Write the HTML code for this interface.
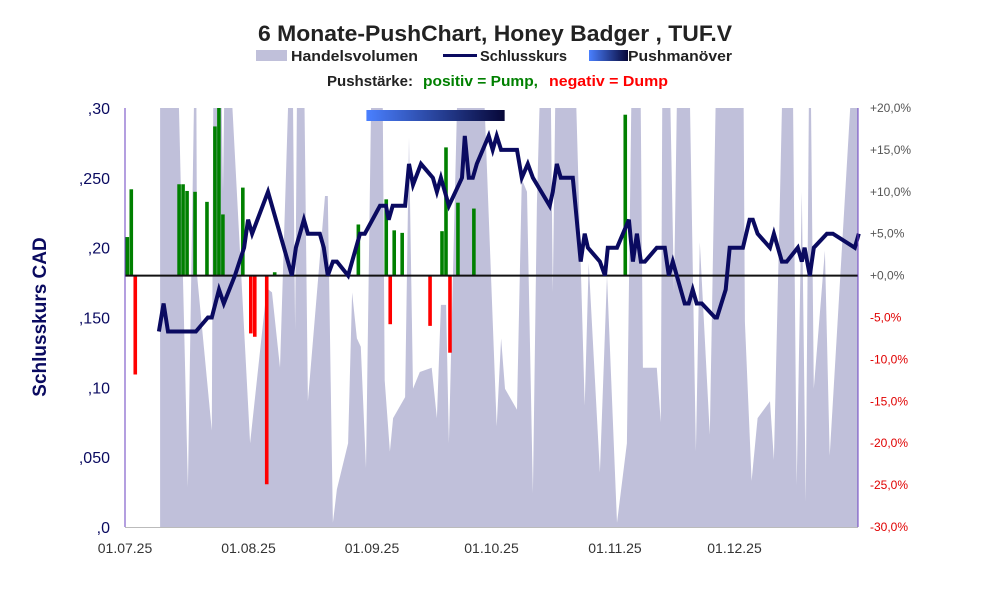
<!DOCTYPE html>
<html><head><meta charset="utf-8"><style>
body{margin:0;background:#fff;}
svg{display:block;font-family:"Liberation Sans",sans-serif;}
</style></head><body>
<svg id="chart" width="991" height="591" viewBox="0 0 991 591" xmlns="http://www.w3.org/2000/svg">
<defs>
<linearGradient id="pg" x1="0" x2="1" y1="0" y2="0"><stop offset="0" stop-color="#4a80ff"/><stop offset="1" stop-color="#070738"/></linearGradient>
<clipPath id="plotclip"><rect x="125" y="108" width="733" height="419"/></clipPath>
</defs>
<text x="258" y="41" textLength="474" lengthAdjust="spacingAndGlyphs" font-size="22" font-weight="bold" fill="#222">6 Monate-PushChart, Honey Badger , TUF.V</text>
<g>
<rect x="256" y="50" width="31" height="11" fill="#c0c0da"/>
<text x="291" y="61" textLength="127" lengthAdjust="spacingAndGlyphs" font-size="15" font-weight="bold" fill="#222">Handelsvolumen</text>
<line x1="443" y1="55.5" x2="477" y2="55.5" stroke="#0a0a60" stroke-width="3"/>
<text x="480" y="61" textLength="87" lengthAdjust="spacingAndGlyphs" font-size="15" font-weight="bold" fill="#222">Schlusskurs</text>
<rect x="589" y="50" width="39" height="11" fill="url(#pg)"/>
<text x="628" y="61" textLength="104" lengthAdjust="spacingAndGlyphs" font-size="15" font-weight="bold" fill="#222">Pushmanöver</text>
<text x="327" y="86" textLength="86" lengthAdjust="spacingAndGlyphs" font-size="15" font-weight="bold" fill="#222">Pushstärke:</text>
<text x="423" y="86" textLength="115" lengthAdjust="spacingAndGlyphs" font-size="15" font-weight="bold" fill="#008000">positiv = Pump,</text>
<text x="549" y="86" textLength="119" lengthAdjust="spacingAndGlyphs" font-size="15" font-weight="bold" fill="#ff0000">negativ = Dump</text>
</g>
<g id="plot"></g>
<text transform="translate(46,317) rotate(-90)" text-anchor="middle" font-size="19" font-weight="bold" fill="#0a0a60">Schlusskurs CAD</text>
</svg>
<script>
const volDays=[8.8,8.8,12.8,15.8,17.8,18.1,21.8,22.3,23.8,24.6,25.3,31.4,35.6,36.9,38.9,41.9,42.7,43.4,44.7,45.9,50.2,50.9,52.2,53.2,56.0,57.0,58.2,59.2,60.5,62.2,64.5,65.2,66.5,67.3,70.3,71.3,72.3,74.0,77.0,78.3,79.3,80.6,81.3,84.1,89.1,93.3,94.4,95.4,98.4,99.6,100.9,102.4,103.4,104.9,106.6,107.4,108.4,112.4,115.4,116.4,119.2,121.0,123.5,126.0,127.5,129.2,130.0,133.5,134.5,135.0,136.3,137.8,139.0,141.3,143.3,144.3,146.8,148.8,155.1,155.6,157.3,158.8,161.9,162.9,164.4,165.6,167.4,168.6,169.9,170.9,171.9,172.9,175.7,176.9,183.9,183.9];
const volValues=[0,130,130,9.5,130,60,23,130,130,80,130,20,57,56,38,130,47,130,130,30,79,79,1,9,20,56,45,43,14,130,130,35,18,26,31,93,33,37,38,26,53,53,20,130,130,24,45,33,28,83,80,8,77,130,130,56,130,130,29,63,13,60,1,20,130,130,38,38,25,130,130,56,130,130,18,68,22,130,130,49,11,26,30,16,78,130,130,10,80,6,130,33,66,17,130,0];
const priceDays=[8.5,9.7,10.8,17.8,20.8,21.8,23.6,24.8,27.6,29.9,30.9,31.9,35.9,41.9,42.9,44.9,45.9,48.9,49.9,50.9,52.2,53.2,56.0,59.0,60.2,64.0,65.5,66.2,67.2,70.3,71.3,72.3,74.3,77.3,78.3,79.3,81.3,84.6,85.3,86.3,87.3,88.3,91.3,92.3,93.3,94.4,98.4,99.6,101.1,102.4,106.6,107.4,108.4,109.4,112.4,114.4,115.4,116.2,119.2,120.5,121.2,123.5,126.5,127.5,128.5,129.5,130.5,133.5,135.5,136.5,137.5,140.5,141.5,142.5,143.5,144.8,148.1,148.6,150.8,151.8,155.1,156.8,157.6,158.8,161.9,162.9,164.9,166.1,168.9,169.9,170.6,171.9,172.9,176.2,177.7,183.2,184.2];
const priceValues=[0.14,0.16,0.14,0.14,0.15,0.15,0.17,0.16,0.18,0.20,0.22,0.21,0.24,0.18,0.20,0.22,0.21,0.21,0.20,0.18,0.19,0.19,0.18,0.21,0.21,0.23,0.23,0.22,0.23,0.23,0.26,0.245,0.26,0.25,0.24,0.25,0.23,0.25,0.28,0.25,0.25,0.26,0.28,0.27,0.28,0.27,0.27,0.25,0.26,0.25,0.23,0.24,0.26,0.25,0.25,0.19,0.21,0.20,0.19,0.18,0.20,0.20,0.22,0.19,0.21,0.19,0.19,0.20,0.20,0.18,0.19,0.16,0.16,0.17,0.16,0.16,0.15,0.15,0.17,0.20,0.20,0.22,0.22,0.21,0.20,0.21,0.19,0.19,0.20,0.19,0.20,0.18,0.20,0.21,0.21,0.20,0.21];
const pushDays=[0,1,2,13,14,15,17,20,22,23,24,29,31,32,35,37,58,65,66,67,69,76,79,80,81,83,87,125];
const pushValues=[4.6,10.3,-11.8,10.9,10.9,10.1,10.0,8.8,17.8,21,7.3,10.5,-6.9,-7.3,-24.9,0.4,6.1,9.1,-5.8,5.4,5.1,-6.0,5.3,15.3,-9.2,8.7,8.0,19.2];
const pushmanoeverRange=[60.6,95.3];
const leftTicks=[0.30,0.25,0.20,0.15,0.10,0.05,0];
const leftTickLabels=[",30",",250",",20",",150",",10",",050",",0"];
const rightTicks=[20,15,10,5,0,-5,-10,-15,-20,-25,-30];
const rightTickLabels=["+20,0%","+15,0%","+10,0%","+5,0%","+0,0%","-5,0%","-10,0%","-15,0%","-20,0%","-25,0%","-30,0%"];
const xTickDays=[0,31,62,92,123,153];
const xTickLabels=["01.07.25","01.08.25","01.09.25","01.10.25","01.11.25","01.12.25"];

const X0=125,X1=858,Y0=108,Y1=527,NDAYS=184;
const xS=d=>X0+d*(X1-X0)/NDAYS;
const yP=v=>Y1-v/0.30*(Y1-Y0);
const yR=p=>Y1-(p+30)/50*(Y1-Y0);
const yV=v=>Y1-v/100*(Y1-Y0);
const NS="http://www.w3.org/2000/svg";
const plot=document.getElementById('plot');
function mk(tag,attrs,parent){const e=document.createElementNS(NS,tag);for(const k in attrs)e.setAttribute(k,attrs[k]);(parent||plot).appendChild(e);return e;}

let pts=volDays.map((d,i)=>xS(d).toFixed(1)+','+yV(volValues[i]).toFixed(1)).join(' ');
const vol=mk('polygon',{points:pts,fill:'#c0c0da','clip-path':'url(#plotclip)'});



pushDays.forEach((d,i)=>{
  const v=pushValues[i];const y0=yR(0),y=yR(v);
  const b=mk('rect',{x:xS(d)+0.5,y:Math.min(y0,y),width:3.6,height:Math.abs(y-y0),fill:v>=0?'#008000':'#ff0000','clip-path':'url(#plotclip)'});
  
  
});

const zl=mk('line',{x1:X0,x2:X1,y1:yR(0),y2:yR(0),stroke:'#111','stroke-width':2});



const pm=mk('rect',{x:xS(pushmanoeverRange[0]),y:110,width:xS(pushmanoeverRange[1])-xS(pushmanoeverRange[0]),height:11,fill:'url(#pg)'});



const pl=mk('polyline',{points:priceDays.map((d,i)=>xS(d).toFixed(1)+','+yP(priceValues[i]).toFixed(1)).join(' '),fill:'none',stroke:'#0a0a60','stroke-width':4,'stroke-linejoin':'miter'});



const la=mk('line',{x1:X0,x2:X0,y1:Y0,y2:Y1,stroke:'#6a3fc0','stroke-width':1});


const ra=mk('line',{x1:X1,x2:X1,y1:Y0,y2:Y1,stroke:'#6a3fc0','stroke-width':1});


const ba=mk('line',{x1:X0,x2:X1,y1:Y1+0.5,y2:Y1+0.5,stroke:'#bbb','stroke-width':1});



leftTicks.forEach((v,i)=>{
  const t=mk('text',{x:110,y:yP(v)+6,'text-anchor':'end','font-size':16,fill:'#0a0a60'});
  t.textContent=leftTickLabels[i];
  
  
});
rightTicks.forEach((p,i)=>{
  const t=mk('text',{x:870,y:yR(p)+4,'font-size':12,fill:p<0?'#e00000':'#555'});
  t.textContent=rightTickLabels[i];
  
  
});
xTickDays.forEach((d,i)=>{
  const t=mk('text',{x:xS(d),y:553,'text-anchor':'middle','font-size':14,fill:'#333'});
  t.textContent=xTickLabels[i];
  
  
});
</script>
</body></html>
